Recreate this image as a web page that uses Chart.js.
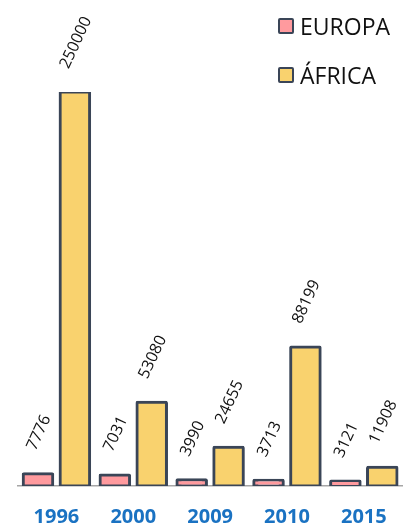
<!DOCTYPE html>
<html>
<head>
<meta charset="utf-8">
<script src="https://cdn.jsdelivr.net/npm/chart.js@4/dist/chart.umd.min.js"></script>
<style>
  html, body { margin: 0; padding: 0; background: #fff; }
  #wrap { position: relative; width: 406px; height: 525px; }
  #legend { position: absolute; left: 278px; top: 13px; font-family: "Open Sans", sans-serif; font-size: 23px; color: #111; }
  #legend div { display: flex; align-items: center; height: 26px; margin-bottom: 23px; }
  #legend span.box { display: inline-block; width: 12px; height: 12px; border: 2.5px solid #3a4557; border-radius: 2px; margin-right: 6px; }
</style>
</head>
<body>
<div id="wrap">
  <canvas id="myChart" width="406" height="525"></canvas>
  <div id="legend"></div>
</div>
<script>
let years = ['1996', '2000', '2009', '2010', '2015'];
let europa = [7776, 7031, 3990, 3713, 3121];
let africa = [250000, 53080, 24655, 88199, 11908];
let seriesNames = ['EUROPA', 'ÁFRICA'];
let seriesColors = ['#ff9a9e', '#f9d26e'];

// rotated value labels above each bar
let valueLabels = {
    id: 'valueLabels',
    afterDatasetsDraw(chart) {
        let ctx = chart.ctx;
        let ang = 65 * Math.PI / 180;
        let fs = 16;
        ctx.save();
        ctx.font = fs + 'px "Open Sans", sans-serif';
        ctx.fillStyle = '#111';
        ctx.textAlign = 'center';
        ctx.textBaseline = 'middle';
        chart.data.datasets.forEach(function(ds, i) {
            chart.getDatasetMeta(i).data.forEach(function(bar, j) {
                let txt = String(ds.data[j]);
                let w = ctx.measureText(txt).width;
                let h = fs * 0.72;
                let boxH = w * Math.sin(ang) + h * Math.cos(ang);
                let cy = bar.y - 22 - boxH / 2;
                ctx.save();
                ctx.translate(bar.x + 1, cy);
                ctx.rotate(-ang);
                ctx.fillText(txt, 0, 0);
                ctx.restore();
            });
        });
        ctx.restore();
    }
};

let ctx = document.getElementById('myChart').getContext('2d');
var myChart = new Chart(ctx, {
    type: 'bar',
    data: {
        labels: years,
        datasets: [{
            label: seriesNames[0],
            data: europa,
            backgroundColor: seriesColors[0],
            borderColor: '#3a4557',
            borderWidth: 3,
            borderRadius: 2,
            borderSkipped: false,
            inflateAmount: 1.5
        }, {
            label: seriesNames[1],
            data: africa,
            backgroundColor: seriesColors[1],
            borderColor: '#3a4557',
            borderWidth: 3,
            borderRadius: 2,
            borderSkipped: false,
            inflateAmount: 1.5
        }]
    },
    options: {
        responsive: false,
        animation: false,
        categoryPercentage: 0.96,
        barPercentage: 0.8,
        layout: { padding: { left: 18, right: 3, top: 92, bottom: -23 } },
        plugins: {
            legend: { display: false },
            tooltip: { enabled: false }
        },
        scales: {
            x: {
                grid: { display: false, drawTicks: false },
                border: { display: true, color: '#a6a6a6', width: 1.5 },
                ticks: {
                    color: '#1a72c2',
                    padding: 19,
                    font: { family: '"Open Sans", sans-serif', size: 20, weight: 'bold' }
                }
            },
            y: {
                display: false,
                min: 0,
                max: 250000
            }
        }
    },
    plugins: [valueLabels]
});

let legend = document.getElementById('legend');
seriesNames.forEach(function(name, i) {
    let row = document.createElement('div');
    row.innerHTML = '<span class="box" style="background:' + seriesColors[i] + '"></span>' + name;
    legend.appendChild(row);
});
</script>
</body>
</html>
